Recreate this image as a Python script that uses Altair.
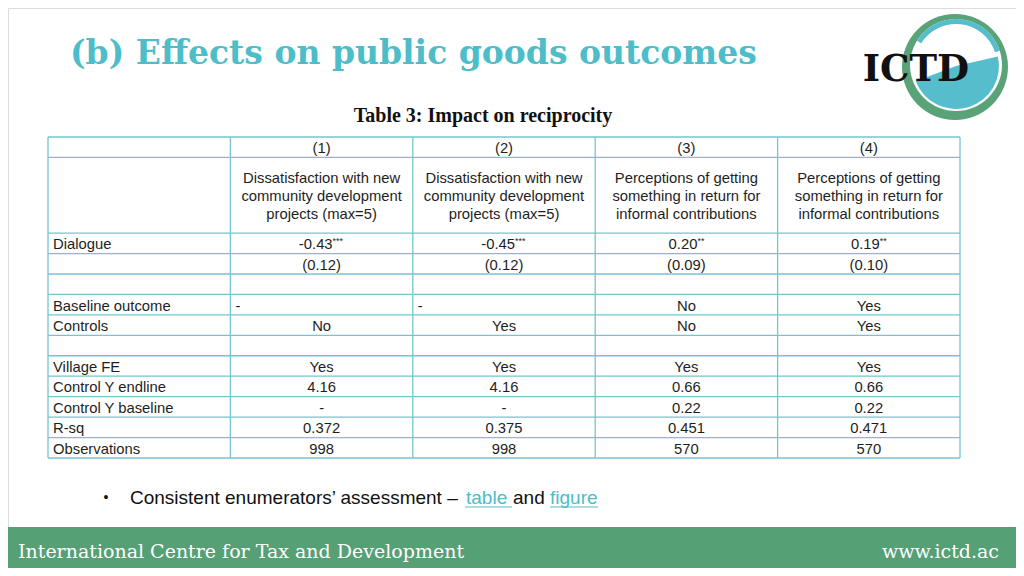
import altair as alt
import pandas as pd

# ---------------- data ----------------
model_ids = ["(1)", "(2)", "(3)", "(4)"]
outcomes = [
    "Dissatisfaction with new\ncommunity development\nprojects (max=5)",
    "Dissatisfaction with new\ncommunity development\nprojects (max=5)",
    "Perceptions of getting\nsomething in return for\ninformal contributions",
    "Perceptions of getting\nsomething in return for\ninformal contributions",
]
dialogue_coef = ["-0.43", "-0.45", "0.20", "0.19"]
dialogue_stars = ["***", "***", "**", "**"]
dialogue_se = ["(0.12)", "(0.12)", "(0.09)", "(0.10)"]
blank = ["", "", "", ""]
baseline_outcome = ["-", "-", "No", "Yes"]
controls = ["No", "Yes", "No", "Yes"]
village_fe = ["Yes", "Yes", "Yes", "Yes"]
control_y_endline = ["4.16", "4.16", "0.66", "0.66"]
control_y_baseline = ["-", "-", "0.22", "0.22"]
r_sq = ["0.372", "0.375", "0.451", "0.471"]
observations = ["998", "998", "570", "570"]

row_labels = ["", "", "Dialogue", "", "", "Baseline outcome", "Controls", "",
              "Village FE", "Control Y endline", "Control Y baseline", "R-sq",
              "Observations"]
row_values = [model_ids, outcomes, dialogue_coef, dialogue_se, blank,
              baseline_outcome, controls, blank, village_fe, control_y_endline,
              control_y_baseline, r_sq, observations]

title_text = "(b) Effects on public goods outcomes"
table_title = "Table 3: Impact on reciprocity"
bullet_main = "Consistent enumerators\u2019 assessment \u2013"
link1 = "table"
mid_word = "and"
link2 = "figure"
footer_left = "International Centre for Tax and Development"
footer_right = "www.ictd.ac"
logo_text = "ICTD"

# ---------------- layout ----------------
OX, OY = 8, 8
W, H = 1008, 560


def px(v):
    return v - OX


def py(v):
    return v - OY


row_heights = [1.0, 3.7] + [1.0] * 11
edges = [0.0]
for h in row_heights:
    edges.append(edges[-1] + h)
total = edges[-1]
left_cells = {(5, 1), (5, 2)}  # left-aligned dashes in "Baseline outcome"

xs = alt.Scale(domain=[0, 5], range=[px(48), px(960)])
ys = alt.Scale(domain=[0, total], range=[py(137), py(458)])

GRID = "#74c5cf"
TXT = "#1e1e1e"
TEAL = "#4dbdc9"
GREEN = "#55a075"
SANS = "Liberation Sans"
FS = 14.8
TDY = 2

center_cells, left_cells_rows, header_cells, coef_cells = [], [], [], []
for r, (lab, vals) in enumerate(zip(row_labels, row_values)):
    yc = (edges[r] + edges[r + 1]) / 2
    if lab:
        left_cells_rows.append({"x": 0, "y": yc, "t": lab})
    for c, v in enumerate(vals, start=1):
        if not v:
            continue
        if r == 1:
            header_cells.append({"x": c + 0.5, "y": yc, "t": v})
        elif r == 2:
            coef_cells.append({"x": c + 0.5, "y": yc, "t": v,
                               "s": dialogue_stars[c - 1]})
        elif (r, c) in left_cells:
            left_cells_rows.append({"x": c, "y": yc, "t": v})
        else:
            center_cells.append({"x": c + 0.5, "y": yc, "t": v})

hlines = pd.DataFrame({"y": edges, "x0": 0, "x1": 5})
vlines = pd.DataFrame({"x": [0, 1, 2, 3, 4, 5], "y0": 0, "y1": total})

X = lambda f: alt.X(f, scale=xs, axis=None)
Y = lambda f: alt.Y(f, scale=ys, axis=None)

h_layer = alt.Chart(hlines).mark_rule(color=GRID, strokeWidth=1.3).encode(
    x=X("x0:Q"), x2="x1:Q", y=Y("y:Q"))
v_layer = alt.Chart(vlines).mark_rule(color=GRID, strokeWidth=1.3).encode(
    x=X("x:Q"), y=Y("y0:Q"), y2="y1:Q")

txt_kw = dict(font=SANS, fontSize=FS, color=TXT, baseline="middle")
center_layer = alt.Chart(pd.DataFrame(center_cells)).mark_text(
    align="center", dy=TDY, **txt_kw).encode(x=X("x:Q"), y=Y("y:Q"), text="t:N")
left_layer = alt.Chart(pd.DataFrame(left_cells_rows)).mark_text(
    align="left", dx=5, dy=TDY, **txt_kw).encode(x=X("x:Q"), y=Y("y:Q"), text="t:N")
header_layer = alt.Chart(pd.DataFrame(header_cells)).mark_text(
    align="center", lineBreak="\n", lineHeight=18, dy=-18 + TDY, **txt_kw).encode(
    x=X("x:Q"), y=Y("y:Q"), text="t:N")
coef_df = pd.DataFrame(coef_cells)
coef_layer = alt.Chart(coef_df).mark_text(
    align="right", dx=11, dy=TDY, **txt_kw).encode(x=X("x:Q"), y=Y("y:Q"), text="t:N")
star_layer = alt.Chart(coef_df).mark_text(
    align="left", dx=11, dy=TDY - 4, font=SANS, fontSize=9, color=TXT,
    baseline="middle").encode(x=X("x:Q"), y=Y("y:Q"), text="s:N")


def one(t):
    return pd.DataFrame({"t": [t]})


title_layer = alt.Chart(one(title_text)).mark_text(
    font="DejaVu Serif", fontWeight="bold", fontSize=33, color=TEAL,
    align="left", baseline="alphabetic").encode(
    x=alt.value(px(70)), y=alt.value(py(64)), text="t:N")
table_title_layer = alt.Chart(one(table_title)).mark_text(
    font="Liberation Serif", fontWeight="bold", fontSize=20, color="#111",
    align="center", baseline="middle").encode(
    x=alt.value(px(483)), y=alt.value(py(116)), text="t:N")

# bullet line
BY = 498
BF = 19
bullet_layer = alt.Chart(one("\u2022")).mark_text(
    font=SANS, fontSize=14, color="#111", align="center", baseline="middle").encode(
    x=alt.value(px(106)), y=alt.value(py(BY)), text="t:N")
bmain_layer = alt.Chart(one(bullet_main)).mark_text(
    font=SANS, fontSize=BF, color="#111", align="left", baseline="middle").encode(
    x=alt.value(px(130)), y=alt.value(py(BY)), text="t:N")
link1_layer = alt.Chart(one(link1)).mark_text(
    font=SANS, fontSize=BF, color=TEAL, align="left", baseline="middle").encode(
    x=alt.value(px(466)), y=alt.value(py(BY)), text="t:N")
mid_layer = alt.Chart(one(mid_word)).mark_text(
    font=SANS, fontSize=BF, color="#111", align="left", baseline="middle").encode(
    x=alt.value(px(513)), y=alt.value(py(BY)), text="t:N")
link2_layer = alt.Chart(one(link2)).mark_text(
    font=SANS, fontSize=BF, color=TEAL, align="left", baseline="middle").encode(
    x=alt.value(px(550)), y=alt.value(py(BY)), text="t:N")
ul1 = alt.Chart(one("u")).mark_rule(color=TEAL, strokeWidth=1).encode(
    x=alt.value(px(465)), x2=alt.value(px(512)), y=alt.value(py(507)))
ul2 = alt.Chart(one("u")).mark_rule(color=TEAL, strokeWidth=1).encode(
    x=alt.value(px(550)), x2=alt.value(px(598)), y=alt.value(py(507)))

# footer
footer_band = alt.Chart(one("f")).mark_rect(color=GREEN).encode(
    x=alt.value(0), x2=alt.value(W), y=alt.value(py(527)), y2=alt.value(H))
footer_l = alt.Chart(one(footer_left)).mark_text(
    font="DejaVu Serif", fontSize=19, color="white", align="left",
    baseline="middle").encode(x=alt.value(px(18)), y=alt.value(py(552)), text="t:N")
footer_r = alt.Chart(one(footer_right)).mark_text(
    font="DejaVu Serif", fontSize=19, color="white", align="right",
    baseline="middle").encode(x=alt.value(px(999)), y=alt.value(py(552)), text="t:N")

# logo
LCX, LCY = 955, 67
LOGO_GREEN = "#5aa277"
LOGO_BLUE = "#55bdcc"


def ring(cx, cy, r1, r2, t1, t2, color):
    return alt.Chart(one("l")).mark_arc(
        radius=r1, radius2=r2, theta=t1, theta2=t2, color=color).encode(
        x=alt.value(px(cx)), y=alt.value(py(cy)))


logo = [
    ring(LCX, LCY, 53, 0, 0, 6.2832, LOGO_GREEN),
    ring(LCX + 1, LCY - 2, 46, 0, 0, 6.2832, "white"),
    ring(LCX + 1, LCY - 1, 43, 0, 1.35, 4.35, LOGO_BLUE),
    ring(LCX + 1, LCY - 2, 46, 41, 5.27, 7.54, LOGO_BLUE),
]
logo_txt = alt.Chart(one(logo_text)).mark_text(
    font="DejaVu Serif", fontWeight="bold", fontSize=37, color="#111",
    align="center", baseline="middle").encode(
    x=alt.value(px(916)), y=alt.value(py(70)), text="t:N")

chart = alt.layer(
    footer_band, footer_l, footer_r,
    *logo, logo_txt,
    title_layer, table_title_layer,
    h_layer, v_layer, center_layer, left_layer, header_layer, coef_layer,
    star_layer,
    bullet_layer, bmain_layer, link1_layer, mid_layer, link2_layer, ul1, ul2,
).properties(
    width=W, height=H, padding=0,
    autosize=alt.AutoSizeParams(type="none"),
).configure_view(stroke=None).configure(background="white")

chart.save("out.html", embed_options={"renderer": "svg", "actions": False})
